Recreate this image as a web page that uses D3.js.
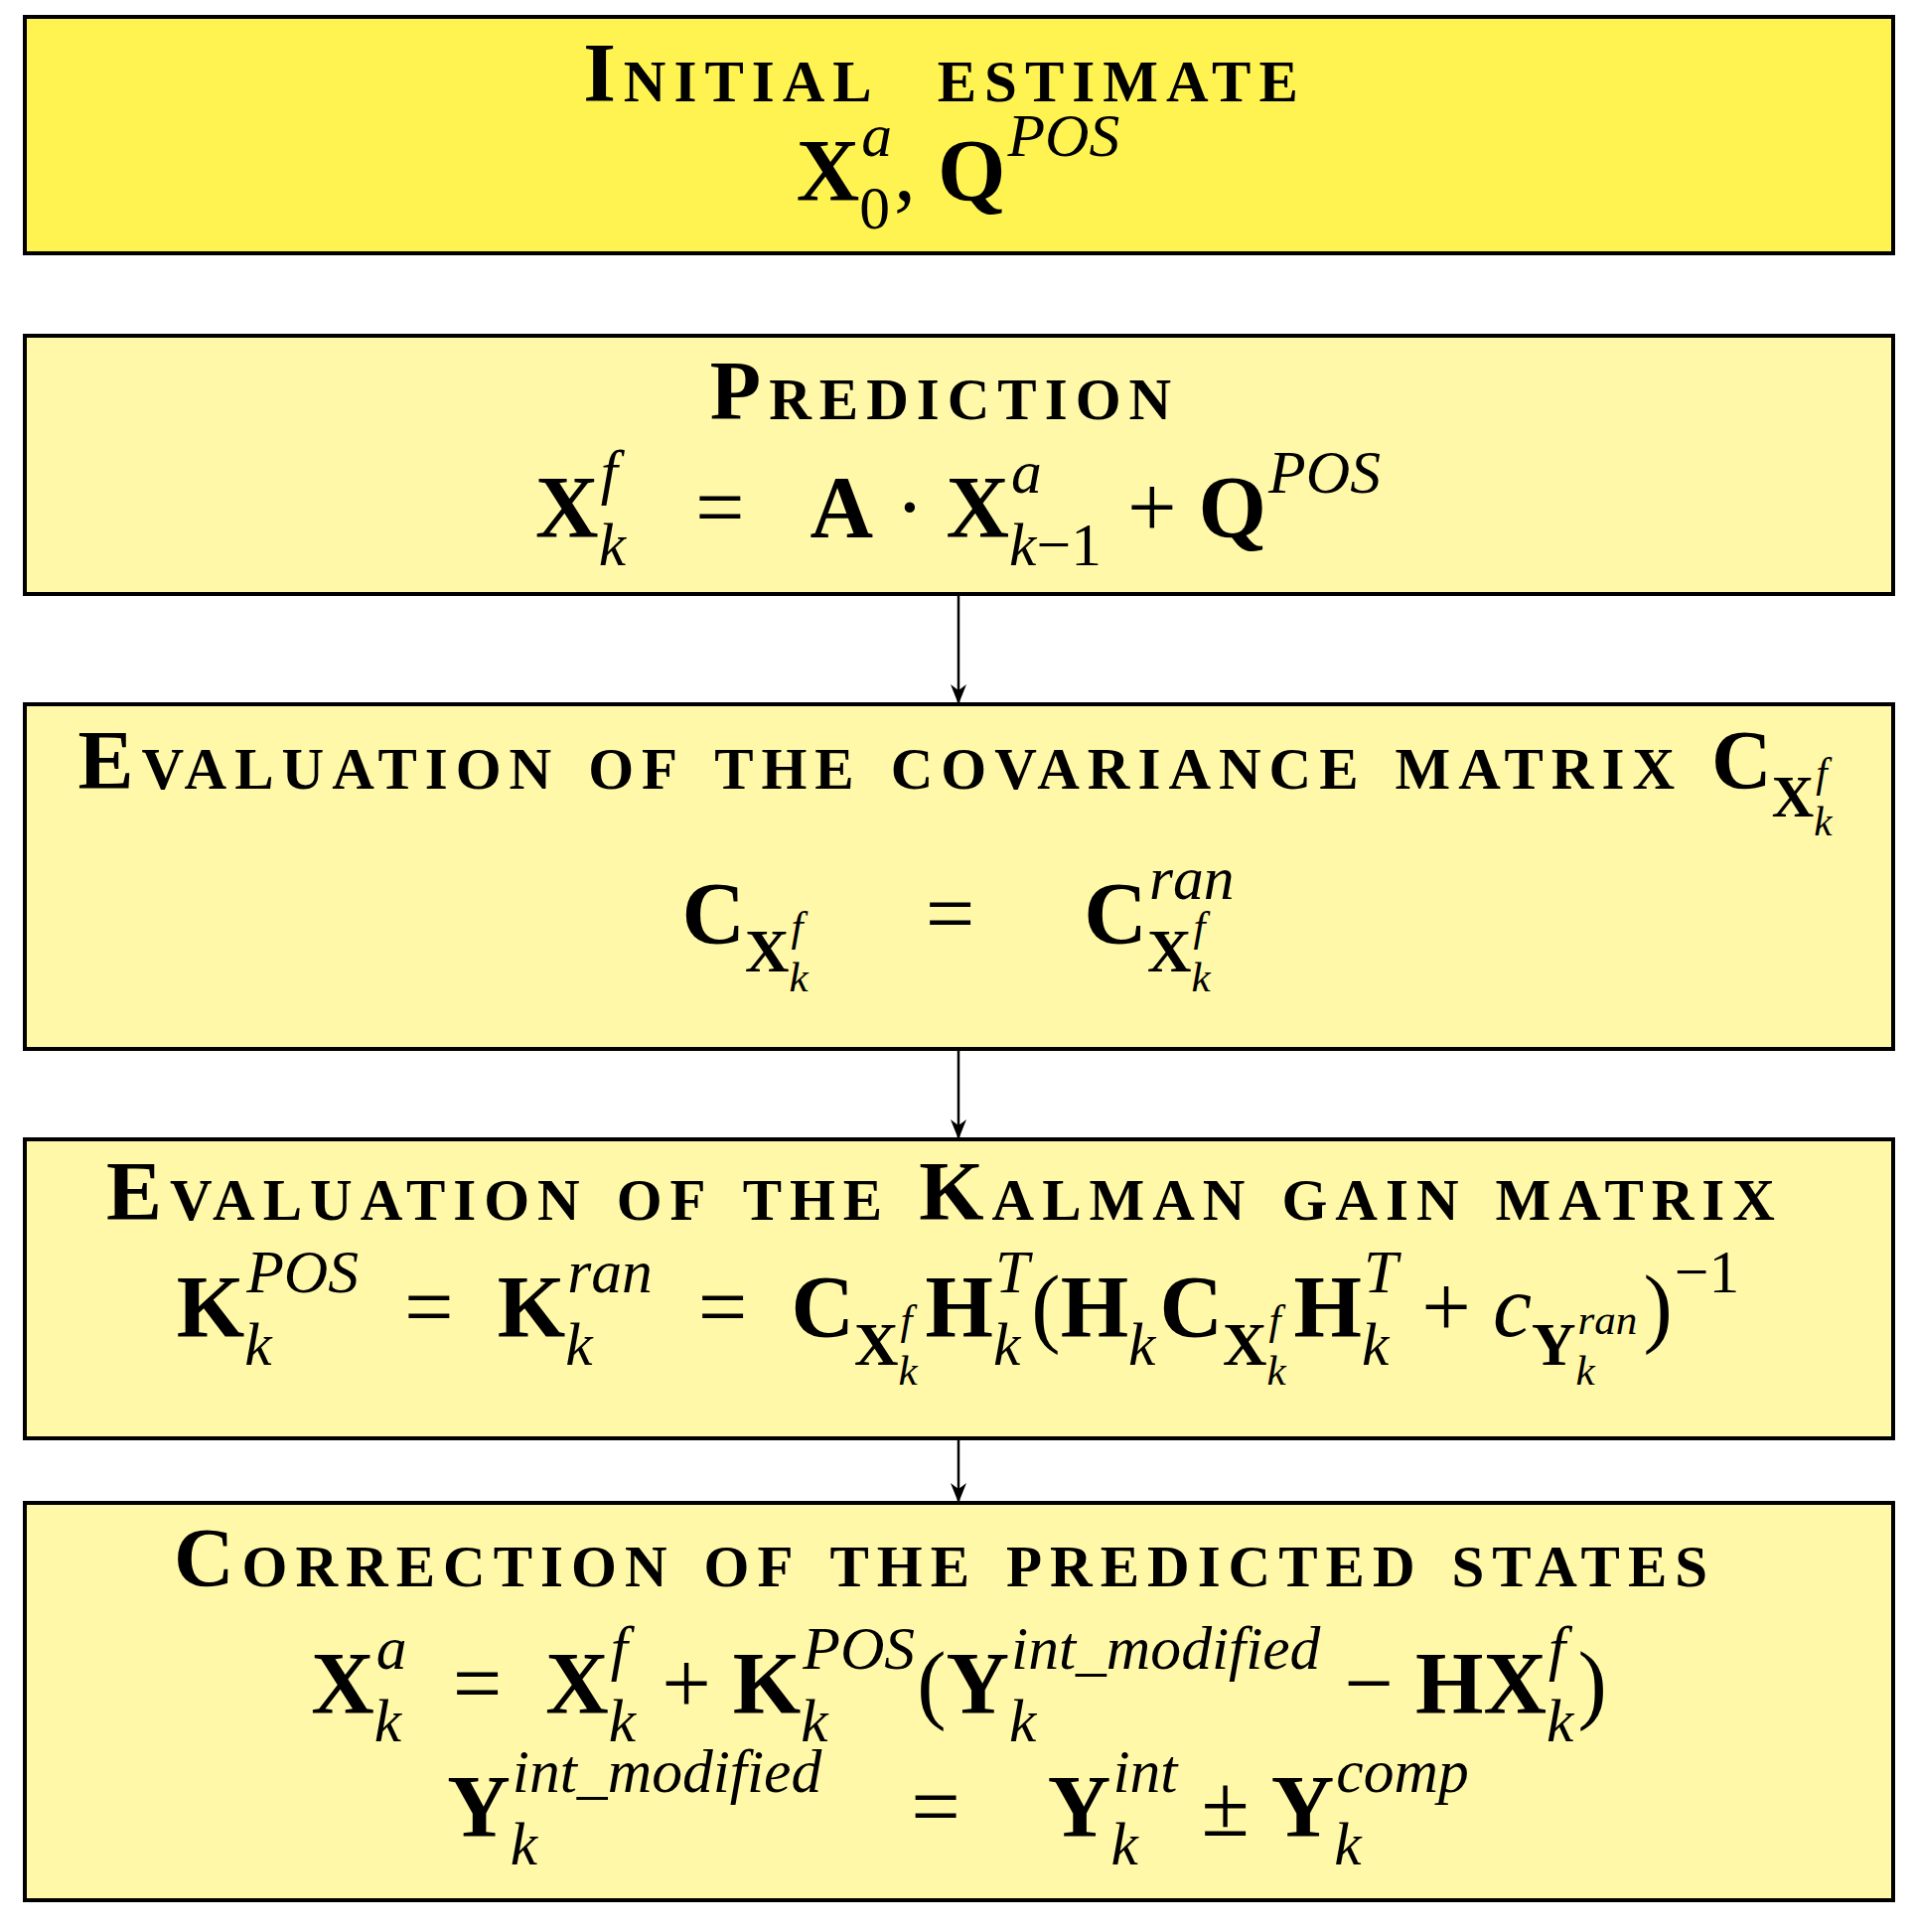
<!DOCTYPE html>
<html><head><meta charset="utf-8">
<script src="https://cdn.jsdelivr.net/npm/d3@7"></script>
<style>body{margin:0;background:#fff}</style>
</head><body>
<div id="chart"></div>
<script>
// boxes of the flow chart, top to bottom
const boxTitles = ["Initial  estimate", "Prediction", "Evaluation of the covariance matrix", "Evaluation of the Kalman gain matrix", "Correction of the predicted states"];
const boxFills = ["#fff352", "#fff8a8", "#fff8a8", "#fff8a8", "#fff8a8"];
const boxTops = [17, 338, 709, 1147, 1513];
const boxBottoms = [255, 598, 1056, 1448, 1913];
const titleBaselines = [102, 422, 794, 1228, 1597];

// equation tokens: t text, s style (b bold, i italic, r roman), sup/sub nested tokens
const Xkf = [{t: "X", s: "b", sup: [{t: "f", s: "i"}], sub: [{t: "k", s: "i"}]}];
const CX = {t: "C", s: "b", sub: Xkf};
const equations = [
    [{y: 201, tokens: [{t: "X", s: "b", sup: [{t: "a", s: "i"}], sub: [{t: "0", s: "r"}]}, {t: ", ", s: "r"}, {t: "Q", s: "b", sup: [{t: "POS", s: "i"}]}]}],
    [{y: 540, tokens: [...Xkf, {t: "   =   ", s: "r"}, {t: "A", s: "b"}, {t: " · ", s: "r"},
        {t: "X", s: "b", sup: [{t: "a", s: "i"}], sub: [{t: "k", s: "i"}, {t: "−1", s: "r"}]}, {t: " + ", s: "r"},
        {t: "Q", s: "b", sup: [{t: "POS", s: "i"}]}]}],
    [{y: 949, tokens: [CX, {t: "     =     ", s: "r"}, {t: "C", s: "b", sup: [{t: "ran", s: "i"}], sub: Xkf}]}],
    [{y: 1345, tokens: [{t: "K", s: "b", sup: [{t: "POS", s: "i"}], sub: [{t: "k", s: "i"}]}, {t: "  =  ", s: "r"},
        {t: "K", s: "b", sup: [{t: "ran", s: "i"}], sub: [{t: "k", s: "i"}]}, {t: "  =  ", s: "r"},
        CX, {t: "H", s: "b", sup: [{t: "T", s: "i"}], sub: [{t: "k", s: "i"}]}, {t: "(", s: "r"},
        {t: "H", s: "b", sub: [{t: "k", s: "i"}]}, CX, {t: "H", s: "b", sup: [{t: "T", s: "i"}], sub: [{t: "k", s: "i"}]},
        {t: " + ", s: "r"}, {t: "c", s: "i", sub: [{t: "Y", s: "b", sup: [{t: "ran", s: "i"}], sub: [{t: "k", s: "i"}]}]},
        {t: ")", s: "r", sup: [{t: "−1", s: "r"}]}]}],
    [{y: 1724, tokens: [{t: "X", s: "b", sup: [{t: "a", s: "i"}], sub: [{t: "k", s: "i"}]}, {t: "  =  ", s: "r"}, ...Xkf,
        {t: " + ", s: "r"}, {t: "K", s: "b", sup: [{t: "POS", s: "i"}], sub: [{t: "k", s: "i"}]}, {t: "(", s: "r"},
        {t: "Y", s: "b", sup: [{t: "int_modified", s: "i"}], sub: [{t: "k", s: "i"}]}, {t: " − ", s: "r"},
        {t: "H", s: "b"}, ...Xkf, {t: ")", s: "r"}]},
     {y: 1848, tokens: [{t: "Y", s: "b", sup: [{t: "int_modified", s: "i"}], sub: [{t: "k", s: "i"}]}, {t: "    =    ", s: "r"},
        {t: "Y", s: "b", sup: [{t: "int", s: "i"}], sub: [{t: "k", s: "i"}]}, {t: " ± ", s: "r"},
        {t: "Y", s: "b", sup: [{t: "comp", s: "i"}], sub: [{t: "k", s: "i"}]}]}]
];
const titleExtra = [null, null, [CX], null, null];

const width = 1929, height = 1945;
const left = 25, right = 1906, arrowX = 965;
const font = "'Liberation Serif', 'DejaVu Serif', serif";

const svg = d3.select("#chart").append("svg").attr("width", width).attr("height", height);
svg.append("defs").append("marker").attr("id", "ah").attr("viewBox", "0 0 10 10")
    .attr("refX", 9).attr("refY", 5).attr("markerWidth", 8).attr("markerHeight", 8).attr("orient", "auto")
    .append("path").attr("d", "M0,1 L10,5 L0,9 L3,5 Z").attr("fill", "#000");

const y = d3.scaleLinear().domain([0, height]).range([0, height]);

svg.selectAll("rect.box").data(boxTops).enter().append("rect")
    .attr("x", left).attr("y", d => y(d)).attr("width", right - left)
    .attr("height", (d, i) => y(boxBottoms[i]) - y(d))
    .attr("fill", (d, i) => boxFills[i]).attr("stroke", "#000").attr("stroke-width", 4);

// arrows between boxes (not between first and second)
svg.selectAll("line.arrow").data(d3.range(1, boxTops.length - 1)).enter().append("line")
    .attr("x1", arrowX).attr("x2", arrowX)
    .attr("y1", i => y(boxBottoms[i]) + 2).attr("y2", i => y(boxTops[i + 1]) - 2)
    .attr("stroke", "#000").attr("stroke-width", 2.5).attr("marker-end", "url(#ah)");

// lay out tokens at (x, base), returns total width
function layout(g, tokens, x, base, size) {
    let cx = x;
    tokens.forEach(tok => {
        const t = g.append("text").attr("x", cx).attr("y", base).attr("font-family", font)
            .attr("font-size", size).attr("xml:space", "preserve").style("white-space", "pre")
            .attr("font-weight", tok.s === "b" ? "bold" : "normal")
            .attr("font-style", tok.s === "i" ? "italic" : "normal").text(tok.t);
        cx += t.node().getComputedTextLength();
        let w = 0;
        if (tok.sup) w = Math.max(w, layout(g, tok.sup, cx + 2, base - size * 0.5, size * 0.7));
        if (tok.sub) w = Math.max(w, layout(g, tok.sub, cx, base + size * 0.33, size * 0.7));
        cx += w + (w ? 4 : 0);
    });
    return cx - x;
}

function centered(tokens, base, size, titleText) {
    const g = svg.append("g");
    let w = 0;
    if (titleText) {
        const t = g.append("text").attr("x", 0).attr("y", base).attr("font-family", font)
            .attr("font-size", size).attr("font-weight", "bold").style("font-variant", "small-caps")
            .attr("letter-spacing", 8).attr("xml:space", "preserve").style("white-space", "pre").text(titleText + " ");
        w = t.node().getComputedTextLength();
    }
    if (tokens) w += layout(g, tokens, w, base, size);
    g.attr("transform", `translate(${(left + right) / 2 - w / 2},0)`);
}

boxTitles.forEach((title, i) => {
    centered(titleExtra[i], y(titleBaselines[i]), 84, title);
    equations[i].forEach(eq => centered(eq.tokens, y(eq.y), 88, null));
});
</script>
</body></html>
